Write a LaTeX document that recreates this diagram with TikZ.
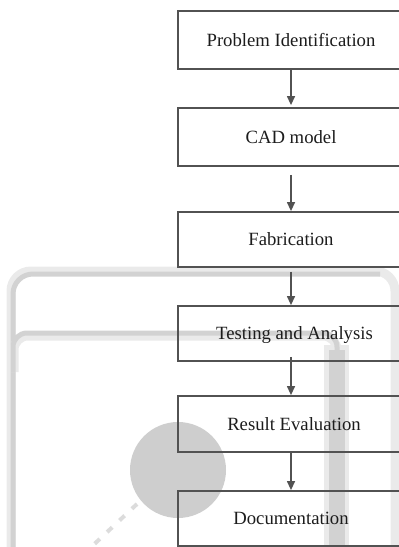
\documentclass[tikz,border=0pt]{standalone}
\usepackage{fontspec}
\setmainfont{Liberation Serif}
\usetikzlibrary{arrows.meta}
\definecolor{wmdark}{RGB}{210,210,210}
\definecolor{wmlight}{RGB}{234,234,234}
\definecolor{wmdash}{RGB}{220,220,220}
\definecolor{wmcircle}{RGB}{206,206,206}
\definecolor{boxline}{RGB}{82,82,82}
\definecolor{txt}{RGB}{28,28,28}
\tikzset{
  stepbox/.style={draw=boxline, line width=1.8pt, minimum width=226pt, inner sep=0pt,
    text=txt, font=\fontsize{18.7}{22}\selectfont, text height=12.5pt, text depth=0pt},
  arr/.style={draw=boxline, line width=1.3pt, -{Triangle[width=8pt,length=9pt]}},
  wmline/.style={draw=wmdark, line width=5pt},
  wmhalo/.style={draw=wmlight, line width=9pt}
}
\begin{document}
\begin{tikzpicture}[x=1pt, y=-1pt]
\useasboundingbox (0,0) rectangle (399,547);
\clip (0,0) rectangle (399,547);
% watermark
\draw[wmhalo, rounded corners=20pt] (11,547) -- (11,271) -- (395,271) -- (395,547);
\draw[wmline, rounded corners=20pt] (13,547) -- (13,274) -- (380,274);
\fill[wmlight] (324,345) rectangle (349,547);
\draw[wmhalo, rounded corners=14pt] (14,372) -- (14,336) -- (337,336) -- (337,547);
\draw[wmline, rounded corners=14pt] (13,372) -- (13,333) -- (337,333) -- (337,360);
\fill[wmdark] (329,350) rectangle (345,547);
\fill[wmcircle] (178,470) circle (48);
\draw[wmdash, line width=4pt, dash pattern=on 7pt off 10pt] (137,504) -- (88,550);
% boxes
\node[stepbox, minimum height=58pt] (b1) at (291,40) {Problem Identification};
\node[stepbox, minimum height=58pt] (b2) at (291,137) {CAD model};
\node[stepbox, minimum height=55pt] (b3) at (291,239.5) {Fabrication};
\node[stepbox, minimum height=55pt] (b4) at (291,333.5) {\hspace*{7pt}Testing and Analysis};
\node[stepbox, minimum height=56pt] (b5) at (291,424) {\hspace*{6pt}Result Evaluation};
\node[stepbox, minimum height=55pt] (b6) at (291,518.5) {Documentation};
% arrows
\draw[arr] (b1.south) -- ([yshift=2pt]b2.north);
\draw[arr] ([yshift=-8pt]b2.south) -- (b3.north);
\draw[arr] ([yshift=-4pt]b3.south) -- (b4.north);
\draw[arr] ([yshift=5pt]b4.south) -- (b5.north);
\draw[arr] (b5.south) -- (b6.north);
\end{tikzpicture}
\end{document}
